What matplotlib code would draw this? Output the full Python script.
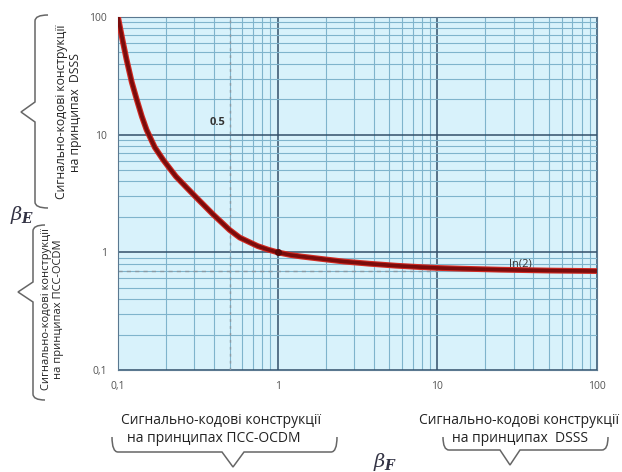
import numpy as np
import matplotlib
matplotlib.use('Agg')
import matplotlib.pyplot as plt
from matplotlib.path import Path
from matplotlib.patches import PathPatch
from matplotlib.ticker import FixedLocator, LogLocator, NullFormatter

plt.rcParams['font.family'] = ['Open Sans', 'DejaVu Sans']
plt.rcParams['mathtext.fontset'] = 'dejavuserif'

# curve
beta_f = [0.1, 0.106, 0.113, 0.122, 0.131, 0.141, 0.151, 0.17, 0.192, 0.23, 0.269,
          0.326, 0.394, 0.5, 0.579, 0.75, 0.87, 1.0, 1.2, 1.4, 1.83, 2.6, 3.76,
          5.5, 7.72, 10, 14.3, 25, 50, 100]
beta_e = [100, 66.8, 43.8, 27.9, 19.9, 14.3, 11.0, 7.8, 6.1, 4.43, 3.55,
          2.72, 2.10, 1.55, 1.334, 1.13, 1.055, 1.0, 0.95, 0.922, 0.883, 0.835, 0.80,
          0.77, 0.75, 0.737, 0.726, 0.712, 0.70, 0.693]

tick_vals = [0.1, 1, 10, 100]
tick_labels = ['0,1', '1', '10', '100']
ln2 = 0.693
half = 0.5

W, H = 622, 472
fig = plt.figure(figsize=(W / 100, H / 100), dpi=100)
ax = fig.add_axes([118 / W, 1 - 370 / H, (597 - 118) / W, (370 - 17) / H])
ax.set_facecolor('#d8f2fb')
ax.set_xscale('log')
ax.set_yscale('log')
ax.set_xlim(0.1, 100)
ax.set_ylim(0.1, 100)

ax.xaxis.set_major_locator(FixedLocator(tick_vals))
ax.yaxis.set_major_locator(FixedLocator(tick_vals))
ax.set_xticklabels(tick_labels)
ax.set_yticklabels(tick_labels)
for a in (ax.xaxis, ax.yaxis):
    a.set_minor_locator(LogLocator(base=10, subs=np.arange(2, 10)))
    a.set_minor_formatter(NullFormatter())
ax.tick_params(which='both', length=0, labelsize=7.5, labelcolor='#555555', pad=8)

ax.grid(which='minor', color='#7fb4cc', lw=0.8)
ax.grid(which='major', color='#33506a', lw=1.1)
ax.set_axisbelow(True)
for s in ax.spines.values():
    s.set_color('#5a7890')
    s.set_linewidth(0.8)

ax.axvline(half, color='#8a9aa4', lw=1, ls=(0, (2, 3)))
ax.plot([0.1, 10], [ln2, ln2], color='#8a9aa4', lw=1, ls=(0, (3, 3)))

ax.plot(beta_f, beta_e, color='#d22a22', lw=4.2, solid_capstyle='round', zorder=4)
ax.plot(beta_f, beta_e, color='#7a0c0c', lw=2.6, solid_capstyle='round', zorder=5)
ax.plot([1], [1], 'o', color='#5a0808', ms=4, zorder=6)

ax.text(0.42, 12.7, '0.5', fontsize=8, fontweight='bold', color='#333333', ha='center', va='center')
ax.text(33, 0.79, 'ln(2)', fontsize=8, color='#333333', ha='center', va='center')


def px(x, y):
    return (x / W, 1 - y / H)


def brace_h(x0, x1, ytop, ybase, xm, w, d, r=6):
    verts = [px(x0, ytop), px(x0, ybase), px(x0 + r, ybase),
             px(xm - w, ybase), px(xm, ybase + d), px(xm + w, ybase),
             px(x1 - r, ybase), px(x1, ybase), px(x1, ytop)]
    codes = [Path.MOVETO, Path.CURVE3, Path.CURVE3,
             Path.LINETO, Path.LINETO, Path.LINETO,
             Path.LINETO, Path.CURVE3, Path.CURVE3]
    fig.patches.append(PathPatch(Path(verts, codes), transform=fig.transFigure,
                                 fill=False, ec='#666666', lw=1.1))


def brace_v(y0, y1, xend, xbase, ym, w, d, r=6):
    verts = [px(xend, y0), px(xbase, y0), px(xbase, y0 + r),
             px(xbase, ym - w), px(xbase - d, ym), px(xbase, ym + w),
             px(xbase, y1 - r), px(xbase, y1), px(xend, y1)]
    codes = [Path.MOVETO, Path.CURVE3, Path.CURVE3,
             Path.LINETO, Path.LINETO, Path.LINETO,
             Path.LINETO, Path.CURVE3, Path.CURVE3]
    fig.patches.append(PathPatch(Path(verts, codes), transform=fig.transFigure,
                                 fill=False, ec='#666666', lw=1.1))


# bottom labels
fs = 10
fig.text(*px(221, 420), 'Сигнально-кодові конструкції', fontsize=fs, ha='center', va='center', color='#222222')
fig.text(*px(214, 438), 'на принципах ПСС-OCDM', fontsize=fs, ha='center', va='center', color='#222222')
brace_h(112, 337, 437, 452, 233, 11, 15)

fig.text(*px(519, 420), 'Сигнально-кодові конструкції', fontsize=fs, ha='center', va='center', color='#222222')
fig.text(*px(520, 438), 'на принципах  DSSS', fontsize=fs, ha='center', va='center', color='#222222')
brace_h(443, 608, 437, 450, 510, 10, 15)

fig.text(*px(385, 462), r'$\beta_{\boldsymbol{F}}$', fontsize=14, ha='center', va='center', color='#333344')
fig.text(*px(22, 215), r'$\beta_{\boldsymbol{E}}$', fontsize=14, ha='center', va='center', color='#333344')

# left labels
fig.text(*px(62, 112), 'Сигнально-кодові конструкції', fontsize=8.7, rotation=90, ha='center', va='center', color='#222222')
fig.text(*px(76, 112), 'на принципах  DSSS', fontsize=8.7, rotation=90, ha='center', va='center', color='#222222')
brace_v(15, 208, 48, 35, 112, 10, 14)

fig.text(*px(47, 309), 'Сигнально-кодові конструкції', fontsize=8, rotation=90, ha='center', va='center', color='#222222')
fig.text(*px(59, 309), 'на принципах ПСС-OCDM', fontsize=8, rotation=90, ha='center', va='center', color='#222222')
brace_v(225, 400, 45, 33, 292, 10, 15)

fig.savefig('out.png', dpi=100)
